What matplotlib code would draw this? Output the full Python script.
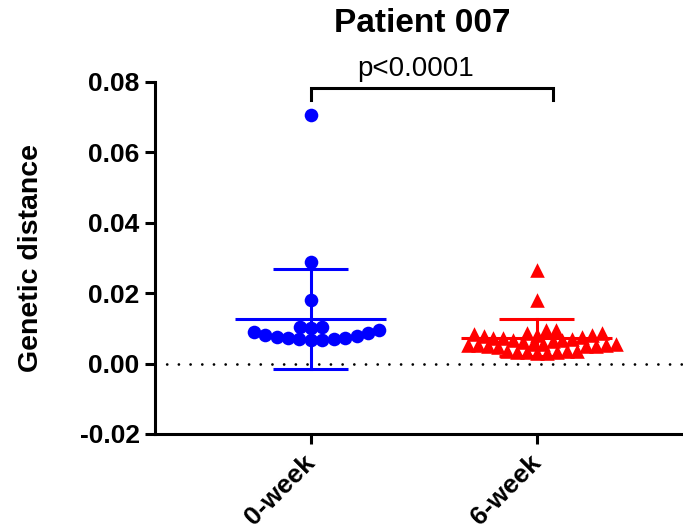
import matplotlib
matplotlib.use("Agg")
import matplotlib.pyplot as plt
import numpy as np

plt.rcParams['font.family'] = ['Liberation Sans', 'DejaVu Sans']

categories = ['0-week', '6-week']
week0 = [0.0067, 0.0068, 0.0069, 0.0070, 0.0072, 0.0074, 0.0076, 0.0079, 0.0082,
         0.0086, 0.0090, 0.0095, 0.0100,
         0.0105, 0.0105, 0.0181, 0.0289, 0.0706]
week6 = [0.0030, 0.0031, 0.0032, 0.0033, 0.0034, 0.0035, 0.0036, 0.0037,
         0.0048, 0.0049, 0.0050, 0.0051, 0.0052, 0.0053, 0.0054, 0.0055, 0.0056,
         0.0057, 0.0062, 0.0064, 0.0066, 0.0068, 0.0070, 0.0072, 0.0074, 0.0076,
         0.0078, 0.0080, 0.0082, 0.0084, 0.0086, 0.0088,
         0.0095, 0.0095, 0.0181, 0.0266]
means = [0.0128, 0.0074]
sds = [0.0142, 0.0052]
yticks = [-0.02, 0.00, 0.02, 0.04, 0.06, 0.08]
colors = ['#0000FF', '#FF0000']
markers = ['o', '^']
p_text = 'p<0.0001'
title = 'Patient 007'
ylabel = 'Genetic distance'

fig = plt.figure(figsize=(6.83, 5.31), dpi=100)
ax = fig.add_axes([0.2269, 0.1827, 0.773, 0.6629])
ax.set_xlim(-0.69, 1.646)
ax.set_ylim(-0.02, 0.08)


def beeswarm(values, dmin_px):
    """Greedy beeswarm in pixel space; returns x offsets in data units."""
    vals = np.asarray(values, dtype=float)
    pts = ax.transData.transform(np.column_stack([np.zeros_like(vals), vals]))
    ypx = pts[:, 1]
    px_per_x = (ax.transData.transform((1, 0)) - ax.transData.transform((0, 0)))[0]
    order = np.argsort(vals, kind='stable')
    placed_x, placed_y = [], []
    offs = np.zeros(len(vals))
    last_sign = -1
    for idx in order:
        y = ypx[idx]
        cands = [0.0]
        for px, py in zip(placed_x, placed_y):
            dy = abs(py - y)
            if dy < dmin_px:
                dx = np.sqrt(dmin_px ** 2 - dy ** 2)
                cands += [px + dx, px - dx]
        valid = []
        for c in cands:
            ok = all((c - px) ** 2 + (y - py) ** 2 >= dmin_px ** 2 - 1e-6
                     for px, py in zip(placed_x, placed_y))
            if ok:
                valid.append(c)
        valid.sort(key=lambda c: (round(abs(c), 3), 0 if np.sign(c) == -last_sign else 1))
        best = valid[0]
        if best != 0:
            last_sign = np.sign(best)
        placed_x.append(best)
        placed_y.append(y)
        offs[idx] = best / px_per_x
    return offs


groups = [week0, week6]
sizes = [9.8, 10.5]
dmins = [11.5, 10.0]
for i, vals in enumerate(groups):
    offs = beeswarm(vals, dmins[i])
    ax.scatter(i + offs, vals, s=sizes[i] ** 2, marker=markers[i], color=colors[i],
               linewidths=0, zorder=3, clip_on=False)

lw = 2.2
for i, (m, s) in enumerate(zip(means, sds)):
    ax.plot([i - 0.334, i + 0.334], [m, m], color=colors[i], lw=lw, zorder=4,
            solid_capstyle='butt')
    ax.plot([i, i], [m - s, m + s], color=colors[i], lw=lw, zorder=4)
    for y in (m - s, m + s):
        ax.plot([i - 0.166, i + 0.166], [y, y], color=colors[i], lw=lw, zorder=4,
                solid_capstyle='butt')

ax.axhline(0, color='black', lw=2, linestyle=(0, (0.01, 4.2)),
           dash_capstyle='round', zorder=1)

ax.set_yticks(yticks)
ax.set_yticklabels([f'{v:.2f}' for v in yticks], fontsize=19, fontweight='bold')
ax.set_xticks(range(len(categories)))
ax.set_xticklabels(categories, fontsize=19, fontweight='bold', rotation=45,
                   ha='right', va='center', rotation_mode='anchor')
ax.set_ylabel(ylabel, fontsize=20.5, fontweight='bold', labelpad=26)
for sp in ['top', 'right']:
    ax.spines[sp].set_visible(False)
for sp in ['left', 'bottom']:
    ax.spines[sp].set_linewidth(lw)
    ax.spines[sp].set_color('black')
ax.tick_params(axis='both', width=lw, length=7, color='black', labelcolor='black')
ax.tick_params(axis='y', pad=4)
ax.tick_params(axis='x', pad=11)

# significance bracket
ax.plot([0, 0, 1.07, 1.07], [0.0749, 0.0783, 0.0783, 0.0749], color='black',
        lw=lw, clip_on=False, solid_joinstyle='miter')
ax.text(0.465, 0.0838, p_text, ha='center', va='center', fontsize=20)

fig.text(422 / 683, 1 - 24 / 531, title, ha='center', va='center',
         fontsize=24, fontweight='bold')

fig.savefig('out.png', dpi=100)
